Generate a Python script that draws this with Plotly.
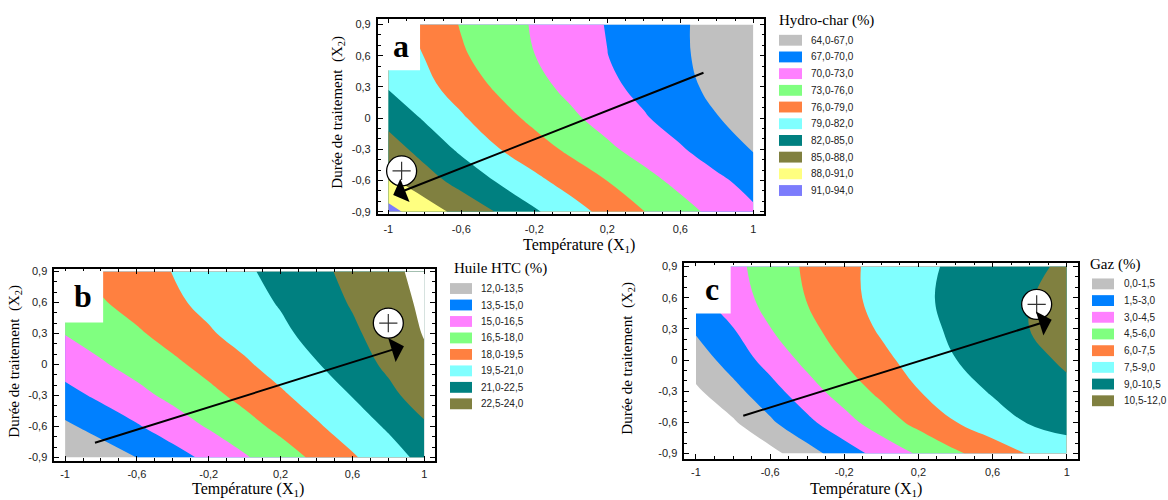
import plotly.graph_objects as go

W, H = 1168, 500

# ---------------- data ----------------
x_grid = [-1.0, -0.8, -0.6, -0.4, -0.2, 0.0, 0.2, 0.4, 0.6, 0.8, 1.0]
y_grid = [-0.9, -0.6, -0.3, 0.0, 0.3, 0.6, 0.9]

# Hydro-char (%) (rows: y from -0.9 to 0.9)
hydrochar_z = [
    [91.9, 89.46, 87.09, 84.8, 82.38, 80.21, 78.12, 76.06, 74.07, 72.19, 70.44],
    [88.67, 86.22, 83.91, 81.74, 79.7, 77.79, 75.96, 73.97, 72.18, 70.58, 68.96],
    [86.34, 83.9, 81.48, 79.14, 77.27, 75.41, 73.56, 71.88, 70.28, 68.54, 66.78],
    [84.05, 81.69, 79.34, 77.22, 75.28, 73.52, 71.87, 70.27, 68.69, 67.12, 65.6],
    [81.8, 79.82, 77.67, 75.56, 73.88, 72.25, 70.68, 69.18, 67.73, 66.33, 65.0],
    [81.3, 78.9, 76.37, 74.63, 73.03, 71.53, 70.04, 68.71, 67.38, 66.09, 64.8],
    [80.3, 78.12, 75.8, 74.27, 72.76, 71.3, 69.86, 68.6, 67.34, 66.07, 64.8],
]
# Huile HTC (%)
huile_z = [
    [12.1, 12.7, 13.51, 14.41, 15.34, 16.35, 17.31, 18.29, 19.33, 20.37, 21.41],
    [13.23, 14.04, 14.86, 15.75, 16.63, 17.47, 18.36, 19.31, 20.24, 21.18, 22.3],
    [14.51, 15.29, 16.08, 16.86, 17.61, 18.42, 19.28, 20.16, 21.05, 22.13, 23.2],
    [15.62, 16.34, 17.03, 17.71, 18.47, 19.29, 20.11, 20.92, 21.81, 22.78, 23.72],
    [16.55, 17.18, 17.81, 18.55, 19.34, 20.04, 20.71, 21.46, 22.26, 23.15, 24.07],
    [17.3, 17.87, 18.54, 19.24, 19.88, 20.48, 21.11, 21.86, 22.62, 23.43, 24.25],
    [17.88, 18.43, 18.97, 19.53, 20.15, 20.78, 21.45, 22.15, 22.89, 23.65, 24.42],
]
# Gaz (%)
gaz_z = [
    [-3.2, -1.85, -0.47, 0.91, 2.27, 3.52, 4.66, 5.77, 6.71, 7.61, 8.5],
    [-1.63, -0.18, 1.27, 2.66, 3.97, 5.25, 6.43, 7.47, 8.35, 9.1, 9.35],
    [-0.23, 1.05, 2.44, 3.89, 5.18, 6.35, 7.46, 8.34, 9.14, 9.68, 10.2],
    [0.75, 2.14, 3.55, 4.9, 6.08, 7.13, 8.08, 8.98, 9.56, 10.13, 10.71],
    [1.7, 2.95, 4.46, 5.62, 6.69, 7.69, 8.52, 9.26, 9.88, 10.5, 11.1],
    [2.56, 3.83, 5.0, 6.07, 7.08, 7.95, 8.72, 9.35, 9.9, 10.44, 10.99],
    [2.88, 4.09, 5.2, 6.22, 7.14, 7.94, 8.65, 9.25, 9.74, 10.23, 10.72],
]

hydrochar_levels = (64.0, 94.0, 3.0)
huile_levels = (12.0, 24.0, 1.5)
gaz_levels = (0.0, 12.0, 1.5)

hydrochar_labels = ["64,0-67,0", "67,0-70,0", "70,0-73,0", "73,0-76,0", "76,0-79,0",
                    "79,0-82,0", "82,0-85,0", "85,0-88,0", "88,0-91,0", "91,0-94,0"]
huile_labels = ["12,0-13,5", "13,5-15,0", "15,0-16,5", "16,5-18,0",
                "18,0-19,5", "19,5-21,0", "21,0-22,5", "22,5-24,0"]
gaz_labels = ["0,0-1,5", "1,5-3,0", "3,0-4,5", "4,5-6,0",
              "6,0-7,5", "7,5-9,0", "9,0-10,5", "10,5-12,0"]

x_tickvals = [-1, -0.6, -0.2, 0.2, 0.6, 1]
x_ticktext = ["-1", "-0,6", "-0,2", "0,2", "0,6", "1"]
y_tickvals = [-0.9, -0.6, -0.3, 0, 0.3, 0.6, 0.9]
y_ticktext = ["-0,9", "-0,6", "-0,3", "0", "0,3", "0,6", "0,9"]

# arrows (tail -> head) and optimum markers
arrow_a = dict(tail=(0.735, 0.441), head=(-0.973, -0.739))
arrow_b = dict(tail=(-0.842, -0.763), head=(0.887, 0.177))
arrow_c = dict(tail=(-0.753, -0.541), head=(0.919, 0.387))
optimum_a = (-0.927, -0.508)
optimum_b = (0.80, 0.40)
optimum_c = (0.838, 0.536)

# ---------------- style ----------------
GRAY = "#C0C0C0"
BLUE = "#0080FF"
PINK = "#FF80FF"
GREEN = "#80FF80"
ORANGE = "#FF8040"
CYAN = "#80FFFF"
TEAL = "#008080"
OLIVE = "#808040"
YELLOW = "#FFFF80"
PURPLE = "#7C7CFC"
band_colors_a = [GRAY, BLUE, PINK, GREEN, ORANGE, CYAN, TEAL, OLIVE, YELLOW, PURPLE]
band_colors_bc = [GRAY, BLUE, PINK, GREEN, ORANGE, CYAN, TEAL, OLIVE]

SERIF = "Liberation Serif, Times New Roman, serif"
SANS = "Liberation Sans, Arial, sans-serif"


def step_scale(bands):
    cols = ["white"] + bands + ["white"]
    n = len(cols) - 1
    sc = []
    for k, c in enumerate(cols):
        lo = max(0.0, (k - 0.5) / n)
        hi = min(1.0, (k + 0.5) / n)
        sc.append([lo, c])
        sc.append([hi, c])
    return sc


def px(p):
    return p / W


def py(p):
    return 1 - p / H


panels = [
    dict(ax="", z=hydrochar_z, lev=hydrochar_levels, cols=band_colors_a,
         xd=(377.7, 764.3), yd=(15.7, 214.0), xr=(-1.058, 1.06), yr=(-0.926, 0.957),
         arrow=arrow_a, opt=optimum_a, box=(-0.826, 0.46), letter="a", lpos=(400.5, 43.5),
         xt=(579, 245), yt=(338, 111),
         leg_title="Hydro-char (%)", leg_labels=hydrochar_labels,
         lt=(777, 18), sw=(779, 802), sy0=37.7, sdy=16.9, tx=809),
    dict(ax="2", z=huile_z, lev=huile_levels, cols=band_colors_bc,
         xd=(54.3, 435.0), yd=(269.0, 463.3), xr=(-1.06, 1.06), yr=(-0.932, 0.926),
         arrow=arrow_b, opt=optimum_b, box=(-0.788, 0.407), letter="b", lpos=(83.3, 296.5),
         xt=(248, 492), yt=(15, 363),
         leg_title="Huile HTC (%)", leg_labels=huile_labels,
         lt=(452, 269), sw=(450, 472), sy0=289.0, sdy=16.67, tx=479),
    dict(ax="3", z=gaz_z, lev=gaz_levels, cols=band_colors_bc,
         xd=(684.3, 1078.0), yd=(262.7, 461.7), xr=(-1.063, 1.061), yr=(-0.954, 0.938),
         arrow=arrow_c, opt=optimum_c, box=(-0.813, 0.448), letter="c", lpos=(711.7, 289.5),
         xt=(866, 492), yt=(628, 360),
         leg_title="Gaz (%)", leg_labels=gaz_labels,
         lt=(1088, 265), sw=(1092, 1114), sy0=284.3, sdy=16.9, tx=1122),
]

fig = go.Figure()
shapes = []
annotations = []
layout_axes = {}

for p in panels:
    xa = "x" + p["ax"]
    ya = "y" + p["ax"]
    start, end, size = p["lev"]
    fig.add_trace(go.Contour(
        x=x_grid, y=y_grid, z=p["z"], xaxis=xa, yaxis=ya,
        autocontour=False,
        contours=dict(start=start, end=end, size=size, coloring="fill", showlines=False),
        colorscale=step_scale(p["cols"]), showscale=False,
        line=dict(width=0, smoothing=1.2), hoverinfo="skip",
    ))
    fig.add_trace(go.Scatter(
        x=[p["opt"][0]], y=[p["opt"][1]], xaxis=xa, yaxis=ya, mode="markers",
        marker=dict(symbol="circle", size=30, color="white",
                    line=dict(color="black", width=1.3)),
        showlegend=False, hoverinfo="skip"))
    fig.add_trace(go.Scatter(
        x=[p["opt"][0]], y=[p["opt"][1]], xaxis=xa, yaxis=ya, mode="markers",
        marker=dict(symbol="cross-thin", size=13, color="#333",
                    line=dict(color="#333", width=1.2)),
        showlegend=False, hoverinfo="skip"))

    axis_common = dict(showline=True, linecolor="black", linewidth=1.6, mirror="ticks",
                       ticks="inside", ticklen=5, tickwidth=1.2, tickcolor="black",
                       showgrid=False, zeroline=False,
                       tickfont=dict(family=SANS, size=11, color="#222"),
                       minor=dict(ticks="inside", ticklen=3, tickwidth=1, tickcolor="black",
                                  tickmode="linear", tick0=0, dtick=0.1, showgrid=False))
    xkey = "xaxis" + p["ax"]
    ykey = "yaxis" + p["ax"]
    layout_axes[xkey] = dict(axis_common, domain=[px(p["xd"][0]), px(p["xd"][1])],
                             range=list(p["xr"]), anchor=ya,
                             tickmode="array", tickvals=x_tickvals, ticktext=x_ticktext,
                             ticklabelstandoff=4 if p["ax"] == "" else 2)
    layout_axes[ykey] = dict(axis_common, domain=[py(p["yd"][1]), py(p["yd"][0])],
                             range=list(p["yr"]), anchor=xa,
                             tickmode="array", tickvals=y_tickvals, ticktext=y_ticktext,
                             ticklabelstandoff=3)

    shapes.append(dict(type="rect", xref=xa, yref=ya, x0=-1.005, x1=p["box"][0],
                       y0=p["box"][1], y1=0.905, fillcolor="white",
                       line=dict(width=0), layer="above"))
    annotations.append(dict(xref="paper", yref="paper", x=px(p["lpos"][0]), y=py(p["lpos"][1]),
                            text="<b>" + p["letter"] + "</b>", showarrow=False,
                            font=dict(family=SERIF, size=32, color="black"),
                            xanchor="center", yanchor="middle"))
    annotations.append(dict(xref=xa, yref=ya, axref=xa, ayref=ya,
                            x=p["arrow"]["head"][0], y=p["arrow"]["head"][1],
                            ax=p["arrow"]["tail"][0], ay=p["arrow"]["tail"][1],
                            text="", showarrow=True, arrowhead=1, arrowsize=2.1,
                            arrowwidth=2, arrowcolor="black", standoff=0))
    annotations.append(dict(xref="paper", yref="paper", x=px(p["xt"][0]), y=py(p["xt"][1]),
                            text="Température (X<sub>1</sub>)", showarrow=False,
                            font=dict(family=SERIF, size=16, color="black"),
                            xanchor="center", yanchor="middle"))
    annotations.append(dict(xref="paper", yref="paper", x=px(p["yt"][0]), y=py(p["yt"][1]),
                            text="Durée de traitement\u00a0 (X<sub>2</sub>)", showarrow=False,
                            textangle=-90,
                            font=dict(family=SERIF, size=15, color="black"),
                            xanchor="center", yanchor="middle"))
    annotations.append(dict(xref="paper", yref="paper", x=px(p["lt"][0]), y=py(p["lt"][1]),
                            text=p["leg_title"], showarrow=False,
                            font=dict(family=SERIF, size=15, color="black"),
                            xanchor="left", yanchor="middle"))
    for k, (lab, col) in enumerate(zip(p["leg_labels"], p["cols"])):
        cy = p["sy0"] + k * p["sdy"]
        shapes.append(dict(type="rect", xref="paper", yref="paper",
                           x0=px(p["sw"][0]), x1=px(p["sw"][1]),
                           y0=py(cy + 5.5), y1=py(cy - 5.5),
                           fillcolor=col, line=dict(width=0)))
        annotations.append(dict(xref="paper", yref="paper", x=px(p["tx"]), y=py(cy),
                                text=lab, showarrow=False,
                                font=dict(family=SANS, size=10, color="#222"),
                                xanchor="left", yanchor="middle"))

fig.update_layout(
    width=W, height=H, margin=dict(l=0, r=0, t=0, b=0),
    paper_bgcolor="white", plot_bgcolor="white", showlegend=False,
    shapes=shapes, annotations=annotations, **layout_axes,
)

fig.write_html("out.html", config={"displayModeBar": False},
               post_script="document.body.style.margin='0px';document.body.style.overflow='hidden';")
